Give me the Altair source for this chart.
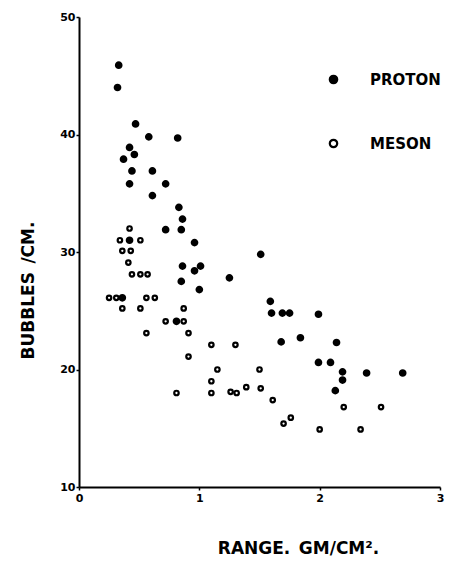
import altair as alt
import pandas as pd

series_names = ["PROTON", "MESON"]

proton_x = [0.33, 0.32, 0.47, 0.58, 0.82, 0.42, 0.46, 0.37, 0.44, 0.61, 0.42, 0.72,
            0.61, 0.83, 0.86, 0.72, 0.85, 0.42, 0.96, 0.86, 1.01, 0.96, 0.85, 1.00,
            0.36, 0.81, 1.51, 1.25, 1.59, 1.60, 1.69, 1.75, 1.99, 1.68, 1.84, 2.14,
            1.99, 2.09, 2.19, 2.19, 2.39, 2.69, 2.13]
proton_y = [45.9, 44.0, 40.9, 39.8, 39.7, 38.9, 38.3, 37.9, 36.9, 36.9, 35.8, 35.8,
            34.8, 33.8, 32.8, 31.9, 31.9, 31.0, 30.8, 28.8, 28.8, 28.4, 27.5, 26.8,
            26.1, 24.1, 29.8, 27.8, 25.8, 24.8, 24.8, 24.8, 24.7, 22.35, 22.7, 22.3,
            20.6, 20.6, 19.8, 19.1, 19.7, 19.7, 18.2]

meson_x = [0.42, 0.34, 0.51, 0.36, 0.43, 0.41, 0.44, 0.51, 0.57, 0.25, 0.31, 0.56,
           0.63, 0.36, 0.51, 0.87, 0.72, 0.87, 0.56, 0.91, 1.10, 0.91, 1.15, 1.10,
           0.81, 1.10, 1.30, 1.50, 1.26, 1.31, 1.39, 1.51, 1.61, 1.70, 1.76, 2.20,
           2.51, 2.00, 2.34]
meson_y = [32.0, 31.0, 31.0, 30.1, 30.1, 29.1, 28.1, 28.1, 28.1, 26.1, 26.1, 26.1,
           26.1, 25.2, 25.2, 25.2, 24.1, 24.1, 23.1, 23.1, 22.1, 21.1, 20.0, 19.0,
           18.0, 18.0, 22.1, 20.0, 18.1, 18.0, 18.5, 18.4, 17.4, 15.4, 15.9, 16.8,
           16.8, 14.9, 14.9]

x_ticks = [0, 1, 2, 3]
y_ticks = [10, 20, 30, 40, 50]

df = pd.DataFrame({
    "range": proton_x + meson_x,
    "bubbles": proton_y + meson_y,
    "particle": [series_names[0]] * len(proton_x) + [series_names[1]] * len(meson_x),
})

FONT = "DejaVu Sans"

chart = alt.Chart(df).mark_point(
    shape="circle", filled=True, stroke="black", strokeWidth=2.2, opacity=1
).encode(
    x=alt.X("range:Q",
            scale=alt.Scale(domain=[0, 3], nice=False, zero=False),
            axis=alt.Axis(values=x_ticks, format="d", title="RANGE.\u2002GM/CM².",
                          titleX=219, titleY=61, titleBaseline="middle",
                          titleAlign="center", labelPadding=2)),
    y=alt.Y("bubbles:Q",
            scale=alt.Scale(domain=[10, 50], nice=False, zero=False),
            axis=alt.Axis(values=y_ticks, format="d", title="BUBBLES\u2002/CM.",
                          titleX=-51, titleY=273, titleBaseline="middle",
                          titleAlign="center", titleAngle=270, labelPadding=1)),
    fill=alt.Fill("particle:N",
                  scale=alt.Scale(domain=series_names, range=["black", "white"]),
                  legend=alt.Legend(title=None, orient="none", legendX=247, legendY=55,
                                    padding=0, labelOffset=29, rowPadding=47,
                                    symbolSize=55, symbolType="circle",
                                    symbolStrokeColor="black", symbolStrokeWidth=2.2,
                                    symbolOpacity=1,
                                    labelFont=FONT, labelFontSize=15,
                                    labelFontWeight="bold", labelColor="black")),
    size=alt.condition(alt.datum.particle == series_names[0], alt.value(30), alt.value(20)),
).properties(
    width=361, height=470,
    autosize=alt.AutoSizeParams(type="none"),
    padding={"left": 71, "top": 9, "right": 7, "bottom": 69},
).configure_view(stroke=None).configure_axis(
    grid=False, domainColor="black", domainWidth=2, tickColor="black", tickWidth=1.5,
    tickSize=3, labelColor="black", labelFont=FONT, labelFontSize=11,
    labelFontWeight="bold", labelFlush=False, labelOverlap=False,
    titleColor="black", titleFont=FONT, titleFontSize=17, titleFontWeight="bold",
)

chart.save("out.html", embed_options={"renderer": "svg", "actions": False})
